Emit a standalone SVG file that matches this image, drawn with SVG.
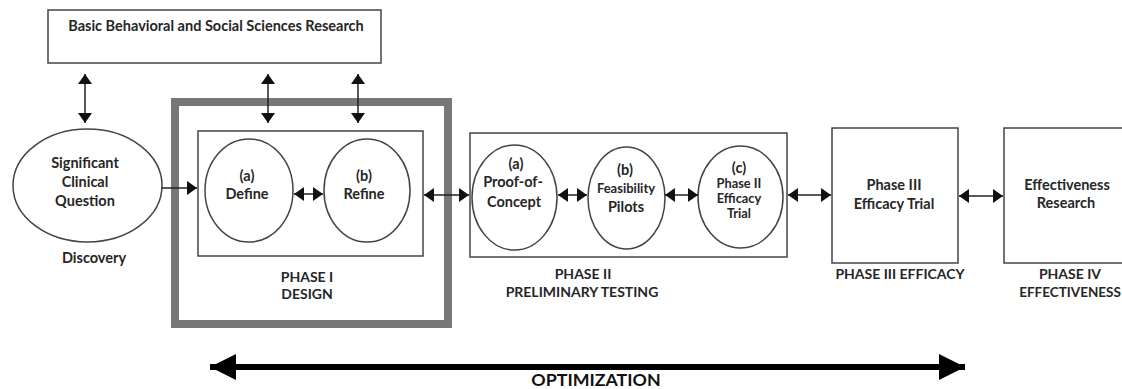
<svg xmlns="http://www.w3.org/2000/svg" width="1122" height="389" viewBox="0 0 1122 389">
  <style>
    text { font-family: Lato, "Liberation Sans", sans-serif; font-weight: bold; font-size: 14.5px; fill: #262626; text-anchor: middle; }
    .lbl { font-size: 14px; }
    .sm { font-size: 13px; }
    .mid { font-size: 12.8px; }
    .big { font-size: 17.8px; fill: #111; }
    .box { fill: #fff; stroke: #444; stroke-width: 1.5; }
    .ell { fill: #fff; stroke: #444; stroke-width: 1.5; }
    .link { fill: none; stroke: #222; stroke-width: 1.5; }
    .frame { fill: none; stroke: #777; stroke-width: 8; }
  </style>
  <defs>
    <marker id="head" markerUnits="userSpaceOnUse" markerWidth="12" markerHeight="14" viewBox="0 0 12 14" refX="10" refY="7" orient="auto-start-reverse">
      <path d="M0,0 L10,7 L0,14 Z" fill="#111"/>
    </marker>
    <marker id="bighead" markerUnits="userSpaceOnUse" markerWidth="28" markerHeight="26" viewBox="0 0 28 26" refX="26" refY="13" orient="auto-start-reverse">
      <path d="M0,0 L26,13 L0,26 Z" fill="#000"/>
    </marker>
  </defs>

  <!-- basic research box -->
  <g id="basic-research">
    <rect class="box" x="48" y="10" width="333" height="53"/>
    <text x="216" y="31">Basic Behavioral and Social Sciences Research</text>
  </g>

  <!-- discovery -->
  <g id="clinical-question">
    <ellipse class="ell" cx="87.5" cy="185.5" rx="74.5" ry="56.5"/>
    <text x="85" y="168">Significant</text>
    <text x="85" y="187">Clinical</text>
    <text x="85" y="206">Question</text>
    <text x="94" y="263">Discovery</text>
  </g>

  <!-- phase I -->
  <g id="phase1">
    <rect class="frame" x="175" y="102" width="273" height="222"/>
    <rect class="box" x="198" y="131" width="225" height="125"/>
    <text class="lbl" x="307" y="282">PHASE I</text>
    <text class="lbl" x="307" y="299">DESIGN</text>
  </g>
  <g id="define">
    <ellipse class="ell" cx="249" cy="190.5" rx="44" ry="51.5"/>
    <text x="247" y="181">(a)</text>
    <text x="247" y="199">Define</text>
  </g>
  <g id="refine">
    <ellipse class="ell" cx="367" cy="190.5" rx="43" ry="51.5"/>
    <text x="364" y="181">(b)</text>
    <text x="364" y="199">Refine</text>
  </g>

  <!-- phase II -->
  <g id="phase2">
    <rect class="box" x="470" y="133" width="317" height="124"/>
    <text class="lbl" x="583" y="279">PHASE II</text>
    <text class="lbl" x="582" y="297">PRELIMINARY TESTING</text>
  </g>
  <g id="proof-of-concept">
    <ellipse class="ell" cx="514.5" cy="197.5" rx="42.5" ry="52.5"/>
    <text x="516" y="169">(a)</text>
    <text x="513" y="187">Proof-of-</text>
    <text x="514" y="207">Concept</text>
  </g>
  <g id="feasibility">
    <ellipse class="ell" cx="626.5" cy="198" rx="38.5" ry="51"/>
    <text x="625" y="175">(b)</text>
    <text class="sm" x="626" y="193">Feasibility</text>
    <text x="626" y="212">Pilots</text>
  </g>
  <g id="efficacy-trial-2">
    <ellipse class="ell" cx="740.5" cy="197" rx="42.5" ry="51"/>
    <text x="739" y="173">(c)</text>
    <text class="mid" x="739" y="188">Phase II</text>
    <text class="mid" x="739" y="203">Efficacy</text>
    <text class="mid" x="739" y="218">Trial</text>
  </g>

  <!-- phase III -->
  <g id="phase3">
    <rect class="box" x="832" y="128" width="126" height="135"/>
    <text x="894" y="190">Phase III</text>
    <text x="894" y="209">Efficacy Trial</text>
    <text class="lbl" x="900" y="279">PHASE III EFFICACY</text>
  </g>

  <!-- phase IV -->
  <g id="phase4">
    <rect class="box" x="1004" y="128" width="130" height="135"/>
    <text x="1067" y="190">Effectiveness</text>
    <text x="1066" y="208">Research</text>
    <text class="lbl" x="1070" y="279">PHASE IV</text>
    <text class="lbl" x="1070" y="297" style="font-size:13.5px">EFFECTIVENESS</text>
  </g>

  <!-- optimization span -->
  <g id="optimization">
    <line x1="210" y1="367" x2="965" y2="367" stroke="#000" stroke-width="6" marker-start="url(#bighead)" marker-end="url(#bighead)"/>
    <text class="big" x="596" y="386">OPTIMIZATION</text>
  </g>

  <!-- connectors -->
  <g id="connectors">
    <line class="link" x1="85" y1="74" x2="85" y2="123" marker-start="url(#head)" marker-end="url(#head)"/>
    <line class="link" x1="268" y1="74" x2="268" y2="123" marker-start="url(#head)" marker-end="url(#head)"/>
    <line class="link" x1="358" y1="74" x2="358" y2="123" marker-start="url(#head)" marker-end="url(#head)"/>
    <line class="link" x1="162" y1="188" x2="197" y2="188" marker-end="url(#head)"/>
    <line class="link" x1="294" y1="194" x2="323" y2="194" marker-start="url(#head)" marker-end="url(#head)"/>
    <line class="link" x1="424" y1="195" x2="469" y2="195" marker-start="url(#head)" marker-end="url(#head)"/>
    <line class="link" x1="558" y1="195" x2="587" y2="195" marker-start="url(#head)" marker-end="url(#head)"/>
    <line class="link" x1="665" y1="195" x2="698" y2="195" marker-start="url(#head)" marker-end="url(#head)"/>
    <line class="link" x1="788" y1="195" x2="831" y2="195" marker-start="url(#head)" marker-end="url(#head)"/>
    <line class="link" x1="959" y1="196" x2="1003" y2="196" marker-start="url(#head)" marker-end="url(#head)"/>
  </g>
</svg>
